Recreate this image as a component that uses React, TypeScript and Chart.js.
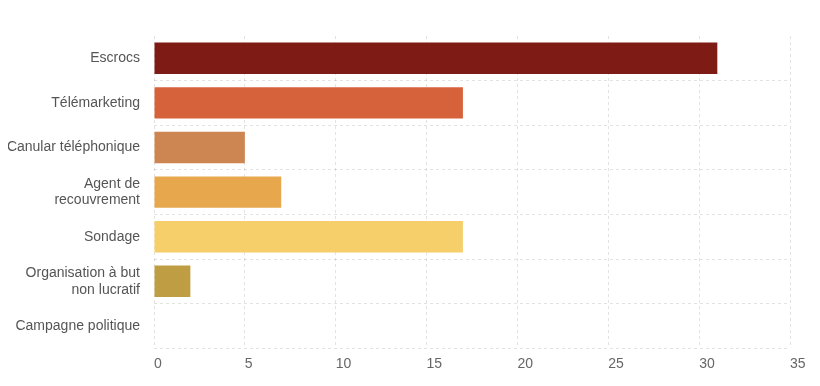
import React, { useEffect, useRef } from "react";
import { Chart, registerables } from "chart.js";

Chart.register(...registerables);

const categories: (string | string[])[] = [
  "Escrocs",
  "Télémarketing",
  "Canular téléphonique",
  ["Agent de", "recouvrement"],
  "Sondage",
  ["Organisation à but", "non lucratif"],
  "Campagne politique",
];
const values = [31, 17, 5, 7, 17, 2, 0];
const barColors = ["#7e1b15", "#d6623b", "#cd8551", "#e7a84d", "#f6cf6b", "#bf9d42", "#cccccc"];
const xTicks = [0, 5, 10, 15, 20, 25, 30, 35];

export default function App() {
  const ref = useRef<HTMLCanvasElement>(null);
  useEffect(() => {
    if (!ref.current) return;
    const font = { family: "'Liberation Sans', Arial, sans-serif", size: 14 };
    const chart = new Chart(ref.current, {
      type: "bar",
      data: {
        labels: categories,
        datasets: [
          {
            data: values,
            backgroundColor: barColors,
            borderColor: barColors,
            borderWidth: 0,
            categoryPercentage: 0.8,
            barPercentage: 0.88,
          },
        ],
      },
      options: {
        indexAxis: "y",
        animation: false,
        responsive: true,
        maintainAspectRatio: false,
        layout: { padding: { top: 28, right: 22, bottom: -3, left: 0 } },
        plugins: { legend: { display: false }, tooltip: { enabled: false } },
        scales: {
          x: {
            min: 0,
            max: 35,
            afterBuildTicks: (scale: any) => {
              scale.ticks = xTicks.map((v) => ({ value: v }));
            },
            afterFit: (scale: any) => {
              scale.paddingLeft = 0;
              scale.paddingRight = 0;
            },
            ticks: { align: "start", color: "#666", font, padding: 8 },
            grid: {
              color: "rgba(0,0,0,0.11)",
              drawTicks: false,
              tickBorderDash: [3, 3],
            } as any,
            border: { display: false, dash: [3, 3] },
          },
          y: {
            afterFit: (scale: any) => {
              scale.width = 146;
              scale.paddingTop = 0;
              scale.paddingBottom = 0;
            },
            ticks: { color: "#555", font, padding: 14 },
            grid: {
              color: (ctx: any) => (ctx.index === 0 ? "rgba(0,0,0,0)" : "rgba(0,0,0,0.11)"),
              drawTicks: false,
              offset: true,
            },
            border: { display: false, dash: [3, 3] },
          },
        },
      },
    });
    return () => chart.destroy();
  }, []);
  return (
    <div style={{ width: 804, height: 370, position: "relative" }}>
      <canvas ref={ref} />
    </div>
  );
}
